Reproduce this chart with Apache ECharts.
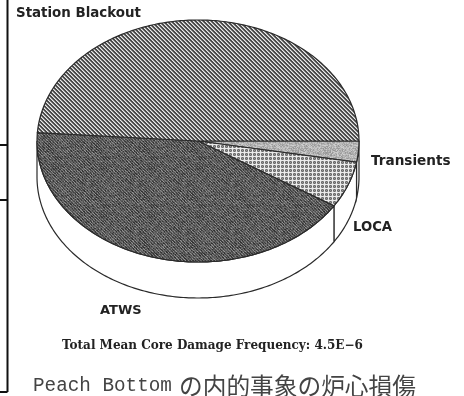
<!DOCTYPE html>
<html><head><meta charset="utf-8">
<style>html,body{margin:0;padding:0;background:#fff}#c{width:464px;height:396px}</style>
<script src="https://cdn.jsdelivr.net/npm/echarts@6/dist/echarts.min.js"></script>
</head><body><div id="c"></div>
<script>
const categories = ['Transients', 'LOCA', 'ATWS', 'Station Blackout'];
const shares = [2.8, 6.2, 42.1, 48.9];
const footnote = 'Total Mean Core Damage Frequency: 4.5E-6';
const captionLatin = 'Peach Bottom';
const captionJa = 'の内的事象の炉心損傷';

const CX = 198, CY = 141, RX = 161, RY = 121, DEPTH = 36;

function tile(w, h, paint) {
  const c = document.createElement('canvas');
  c.width = w; c.height = h;
  const g = c.getContext('2d');
  const d = g.createImageData(w, h);
  for (let y = 0; y < h; y++) for (let x = 0; x < w; x++) {
    const v = paint(x, y), i = (y * w + x) * 4;
    d.data[i] = d.data[i + 1] = d.data[i + 2] = v; d.data[i + 3] = 255;
  }
  g.putImageData(d, 0, 0);
  return { image: c, repeat: 'repeat' };
}
const grain = (x, y) => { const s = Math.sin(x * 12.9898 + y * 78.233) * 43758.5453; return s - Math.floor(s); };
const fills = [
  tile(32, 32, (x, y) => 178 + (grain(x, y) - 0.5) * 60),
  tile(16, 16, (x, y) => (x % 4 === 0 || y % 4 === 0) ? 235 : ((x + y) % 2 ? 105 : 150)),
  tile(48, 48, (x, y) => ((x - y + 480) % 3 === 0 ? 125 : 76) + (grain(x, y) - 0.5) * 60),
  tile(16, 16, (x, y) => { const k = (x - y + 160) % 4; return k === 0 ? 235 : k === 1 ? 160 : k === 2 ? 70 : 80; })
];

const total = shares.reduce((a, b) => a + b, 0);
const bounds = [0];
shares.forEach(v => bounds.push(bounds[bounds.length - 1] + v / total * Math.PI * 2));

function rim(a, dy) { return [CX + RX * Math.cos(a), CY + dy + RY * Math.sin(a)]; }
function arc(a0, a1, dy) {
  const pts = [], n = Math.max(2, Math.ceil((a1 - a0) * 60));
  for (let i = 0; i <= n; i++) pts.push(rim(a0 + (a1 - a0) * i / n, dy));
  return pts;
}
const line = { stroke: '#2a2a2a', lineWidth: 1.2 };

const option = {
  animation: false,
  backgroundColor: '#fff',
  series: [
    {
      type: 'custom', coordinateSystem: 'none', z: 1, silent: true,
      data: shares.map((v, i) => ({ name: categories[i], value: v })),
      renderItem(params) {
        const a0 = bounds[params.dataIndex], a1 = Math.min(bounds[params.dataIndex + 1], Math.PI);
        if (a1 <= a0) return { type: 'group', children: [] };
        const pts = arc(a0, a1, 0).concat(arc(a0, a1, DEPTH).reverse());
        return { type: 'polygon', shape: { points: pts }, style: { fill: '#fff', ...line } };
      }
    },
    {
      type: 'custom', coordinateSystem: 'none', z: 2, silent: true,
      data: shares.map((v, i) => ({ name: categories[i], value: v })),
      renderItem(params) {
        const i = params.dataIndex;
        const pts = [[CX, CY]].concat(arc(bounds[i], bounds[i + 1], 0));
        return { type: 'polygon', shape: { points: pts }, style: { fill: fills[i], ...line } };
      }
    }
  ],
  graphic: [
    ...[[7.5, 0, 7.5, 392], [0, 145, 7.5, 145], [0, 200, 7.5, 200], [0, 392, 7.5, 392]].map(p => ({
      type: 'line', shape: { x1: p[0], y1: p[1], x2: p[2], y2: p[3] }, style: { stroke: '#111', lineWidth: 2 }
    })),
    ...[[3, 16, 14, 13.4], [0, 371, 161, 13.6], [1, 353, 228, 13.2], [2, 100, 311, 13]].map(p => ({
      type: 'text', x: p[1], y: p[2],
      style: { text: categories[p[0]], font: 'bold ' + p[3] + 'px "DejaVu Sans"', fill: '#222', verticalAlign: 'middle' }
    })),
    {
      type: 'text', x: 62, y: 346,
      style: { text: footnote.replace('E-6', 'E\u22126'), font: 'bold 12px "DejaVu Serif"', fill: '#222', verticalAlign: 'middle' }
    },
    {
      type: 'text', x: 33, y: 386,
      style: {
        text: '{a|' + captionLatin + '}{g| }{b|' + captionJa + '}', verticalAlign: 'middle',
        rich: {
          a: { font: '19.3px "Liberation Mono"', fill: '#444' },
          g: { font: '12px "Liberation Mono"', fill: '#444' },
          b: { font: '23.7px "Noto Sans CJK JP"', fill: '#444' }
        }
      }
    }
  ]
};
echarts.init(document.getElementById('c'), null, { renderer: 'canvas' }).setOption(option);
</script></body></html>
